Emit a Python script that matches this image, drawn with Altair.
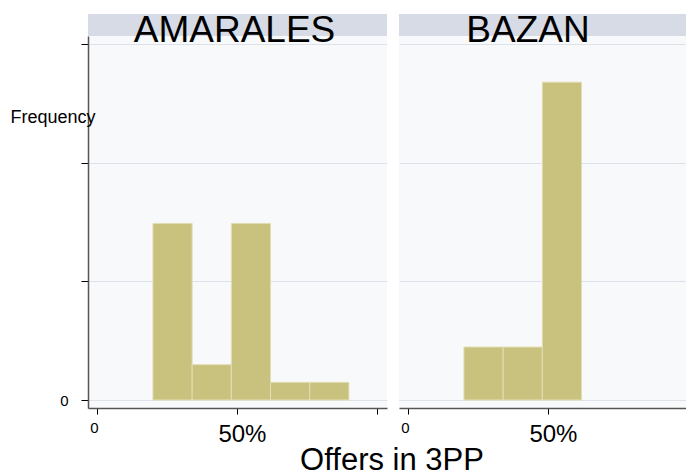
import altair as alt
import pandas as pd

# ---- data ----
panels = ["AMARALES", "BAZAN"]
bin_start = [0.20, 0.34, 0.48, 0.62, 0.76]
bin_width = 0.14
amarales_counts = [10, 2, 10, 1, 1]
bazan_counts = [3, 3, 18, 0, 0]
n_obs = 24
x_tick_values = [0, 0.5, 1.0]
x_tick_labels = ["0", "50%", ""]
y_tick_values = [0, 2, 4, 6]
y_tick_labels = ["0", "", "", ""]

FONT = "Liberation Sans"
W, H = 299, 372
BAR_FILL = "#c9c17e"
BAR_STROKE = "#e2deb4"
BAND = "#d6dbe6"
GRID = "#dde1ea"

x_scale = alt.Scale(domain=[-0.032, 1.036], nice=False, zero=False)
y_scale = alt.Scale(domain=[-0.1348, 6.135], nice=False, zero=False)


def label_expr(values, labels):
    expr = "''"
    for v, l in zip(reversed(values), reversed(labels)):
        expr = f"datum.value == {v} ? '{l}' : {expr}"
    return expr


x_axis = alt.Axis(
    values=x_tick_values,
    labelExpr=label_expr(x_tick_values, x_tick_labels),
    title=None,
    grid=False,
    domainColor="#555555",
    domainWidth=1.5,
    tickColor="#000000",
    tickSize=6,
    tickWidth=1,
    labelColor="#000000",
    labelFont=FONT,
    labelFontSize={"condition": {"test": "datum.value == 0", "value": 15}, "value": 24},
    labelOffset={"condition": {"test": "datum.value == 0", "value": -3}, "value": 5},
    labelPadding={"condition": {"test": "datum.value == 0", "value": 6}, "value": 8},
)


def panel(name, counts, show_y, header_x):
    df = pd.DataFrame(
        {
            "start": bin_start,
            "end": [s + bin_width for s in bin_start],
            "count": counts,
        }
    )
    if show_y:
        y_axis = alt.Axis(
            values=y_tick_values,
            labelExpr=label_expr(y_tick_values, y_tick_labels),
            grid=True,
            gridColor=GRID,
            gridWidth=1,
            domainColor="#555555",
            domainWidth=1.5,
            tickColor="#000000",
            tickSize=7,
            labelColor="#000000",
            labelFont=FONT,
            labelFontSize=15,
            labelPadding=13,
            title="Frequency",
            titleAngle=0,
            titleAlign="left",
            titleBaseline="middle",
            titleX=-78,
            titleY=81,
            titleFont=FONT,
            titleFontSize=18,
            titleFontWeight="normal",
            titleColor="#000000",
        )
    else:
        y_axis = alt.Axis(
            values=y_tick_values,
            grid=True,
            gridColor=GRID,
            gridWidth=1,
            labels=False,
            ticks=False,
            domain=False,
            title=None,
        )

    bars = (
        alt.Chart(df)
        .transform_filter("datum.count > 0")
        .transform_calculate(
            density=f"datum.count / ({n_obs} * {bin_width})", zero="0"
        )
        .mark_rect(fill=BAR_FILL, stroke=BAR_STROKE, strokeWidth=1)
        .encode(
            x=alt.X("start:Q", scale=x_scale, axis=x_axis),
            x2="end:Q",
            y=alt.Y("density:Q", scale=y_scale, axis=y_axis),
            y2="zero:Q",
        )
    )

    head = pd.DataFrame({"panel": [name]})
    band = (
        alt.Chart(head)
        .mark_rect(fill=BAND)
        .encode(x=alt.value(0), x2=alt.value(W), y=alt.value(-22), y2=alt.value(0))
    )
    label = (
        alt.Chart(head)
        .mark_text(font=FONT, fontSize=37, align="center", baseline="alphabetic", color="#000000")
        .encode(text="panel:N", x=alt.value(header_x), y=alt.value(6))
    )
    return alt.layer(band, bars, label).properties(width=W, height=H)


left = panel(panels[0], amarales_counts, True, 146.5)
right = panel(panels[1], bazan_counts, False, 129)

chart = (
    alt.hconcat(left, right, spacing=12)
    .properties(
        title=alt.TitleParams(
            "Offers in 3PP",
            orient="bottom",
            anchor="middle",
            font=FONT,
            fontSize=31,
            fontWeight="normal",
            color="#000000",
            dx=38,
            offset=0,
        ),
        padding={"left": 2, "top": 4, "right": -12, "bottom": -6},
    )
    .configure_view(stroke=None, fill="#f8f9fb")
)

chart.save("out.html", embed_options={"renderer": "svg", "actions": False})
